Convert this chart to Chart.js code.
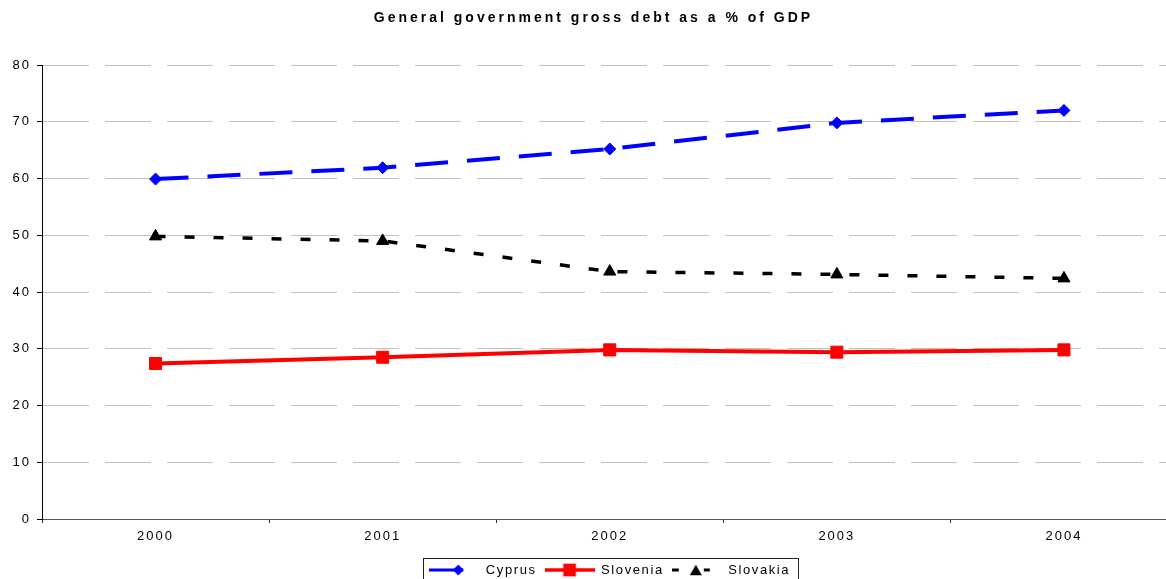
<!DOCTYPE html>
<html>
<head>
<meta charset="utf-8">
<script src="https://cdn.jsdelivr.net/npm/chart.js@4.4.1/dist/chart.umd.min.js"></script>
<style>
html,body{margin:0;padding:0;background:#fff;overflow:hidden}
#wrap{position:relative;width:1187px;height:579px}
canvas{display:block}
</style>
</head>
<body>
<div id="wrap"><canvas id="c"></canvas></div>
<script>
const titleText = 'General government gross debt as a % of GDP';
const years = ['2000', '2001', '2002', '2003', '2004'];
const cyprus = [59.9, 61.9, 65.2, 69.8, 72.0];
const slovenia = [27.4, 28.5, 29.8, 29.4, 29.8];
const slovakia = [49.8, 49.0, 43.6, 43.1, 42.4];
const seriesNames = ['Cyprus', 'Slovenia', 'Slovakia'];
const yMin = 0, yMax = 80, yStep = 10;

const FAMILY = '"Liberation Sans", Arial, Helvetica, sans-serif';

function markerPath(g, style, x, y, r) {
  g.beginPath();
  if (style === 'rectRot') {
    g.moveTo(x - r, y); g.lineTo(x, y - r); g.lineTo(x + r, y); g.lineTo(x, y + r);
  } else if (style === 'rect') {
    const s = r * Math.SQRT1_2;
    g.rect(x - s, y - s, 2 * s, 2 * s);
  } else if (style === 'triangle') {
    const w = r * Math.sqrt(3) / 2;
    g.moveTo(x, y - r * 0.75); g.lineTo(x + w, y + r * 0.75); g.lineTo(x - w, y + r * 0.75);
  }
  g.closePath();
  g.fill();
}

function makeSwatch(color, lw, segs, style, mx, r) {
  const c = document.createElement('canvas');
  c.width = 50; c.height = 18;
  const g = c.getContext('2d');
  g.strokeStyle = color; g.fillStyle = color; g.lineWidth = lw;
  segs.forEach(s => { g.beginPath(); g.moveTo(s[0], 9); g.lineTo(s[1], 9); g.stroke(); });
  markerPath(g, style, mx, 9, r);
  return c;
}

const swatches = [
  makeSwatch('#0000ff', 3, [[0, 34]], 'rectRot', 29, 5.5),
  makeSwatch('#ff0000', 3.5, [[0, 50]], 'rect', 25, 9),
  makeSwatch('#000000', 3, [[0, 7], [32, 38]], 'triangle', 24, 7)
];

function wrapSpacing(obj, method, sp) {
  const key = '_ws_' + method;
  if (!obj || obj[key]) return;
  const orig = obj[method];
  obj[method] = function (...a) {
    const c = this.ctx;
    const prev = c.letterSpacing;
    c.letterSpacing = sp;
    try { return orig.apply(this, a); } finally { c.letterSpacing = prev; }
  };
  obj[key] = true;
}

const stylePlugin = {
  id: 'stylePlugin',
  beforeUpdate(chart) {
    chart.ctx.letterSpacing = '2px';
    wrapSpacing(chart.titleBlock, 'draw', '3px');
    wrapSpacing(chart.legend, 'fit', '1.6px');
    wrapSpacing(chart.legend, 'draw', '1.6px');
  },
  beforeLayout(chart) { chart.ctx.letterSpacing = '2px'; },
  afterLayout(chart) {
    const lg = chart.legend, ca = chart.chartArea;
    const dx = (ca.left + ca.right) / 2 - (lg.left + lg.right) / 2;
    lg.left += dx; lg.right += dx;
    lg.top += 7.5; lg.bottom += 7.5;
  },
  beforeDraw(chart) { chart.ctx.letterSpacing = '2px'; },
  afterDraw(chart) {
    const hb = chart.legend.legendHitBoxes;
    if (!hb || !hb.length) return;
    let l = Infinity, r = -Infinity;
    hb.forEach(h => { l = Math.min(l, h.left); r = Math.max(r, h.left + h.width); });
    const t = hb[0].top - 5.5;
    const ctx = chart.ctx;
    ctx.save();
    ctx.strokeStyle = '#222';
    ctx.lineWidth = 1;
    ctx.setLineDash([]);
    ctx.strokeRect(Math.round(l - 6) + 0.5, Math.round(t) + 0.5, Math.round(r - l + 14), 40);
    ctx.restore();
  }
};

const tickFont = { family: FAMILY, size: 13 };

new Chart(document.getElementById('c'), {
  type: 'line',
  data: {
    labels: years,
    datasets: [
      { label: seriesNames[0], data: cyprus, borderColor: '#0000ff', backgroundColor: '#0000ff',
        borderWidth: 4, borderDash: [33, 19], pointStyle: 'rectRot', pointRadius: 6,
        pointHoverRadius: 6, pointBorderWidth: 1, tension: 0, fill: false },
      { label: seriesNames[1], data: slovenia, borderColor: '#ff0000', backgroundColor: '#ff0000',
        borderWidth: 4, pointStyle: 'rect', pointRadius: 8.5,
        pointHoverRadius: 8.5, pointBorderWidth: 1, tension: 0, fill: false },
      { label: seriesNames[2], data: slovakia, borderColor: '#000000', backgroundColor: '#000000',
        borderWidth: 3.5, borderDash: [10, 19], pointStyle: 'triangle', pointRadius: 7,
        pointHoverRadius: 7, pointBorderWidth: 1, tension: 0, fill: false }
    ]
  },
  options: {
    responsive: true,
    maintainAspectRatio: false,
    animation: false,
    devicePixelRatio: 1,
    layout: { padding: 0 },
    events: [],
    plugins: {
      title: {
        display: true, text: titleText, color: '#000',
        font: { family: FAMILY, size: 14, weight: 'bold' },
        padding: { top: 10, bottom: 38.2 }
      },
      legend: {
        position: 'bottom',
        labels: {
          usePointStyle: true, pointStyleWidth: 50, padding: 8, color: '#000',
          font: { family: FAMILY, size: 13 },
          generateLabels(chart) {
            const items = Chart.defaults.plugins.legend.labels.generateLabels(chart);
            items.forEach(it => { it.pointStyle = swatches[it.datasetIndex]; });
            return items;
          }
        }
      },
      tooltip: { enabled: false }
    },
    scales: {
      x: {
        offset: true,
        grid: { display: true, offset: true, drawOnChartArea: false, drawTicks: true,
                tickLength: 4, tickColor: '#333', tickWidth: 1 },
        border: { display: true, color: '#555', width: 1 },
        ticks: { color: '#000', font: tickFont, padding: 6, maxRotation: 0, autoSkip: false },
        afterFit(s) { s.height = 29; }
      },
      y: {
        min: yMin, max: yMax,
        ticks: { stepSize: yStep, color: '#000', font: tickFont, padding: 6 },
        grid: {
          color: c => (c.tick && c.tick.value === 0) ? 'rgba(0,0,0,0)' : '#c0c0c0',
          lineWidth: 1, tickLength: 5, tickColor: '#000', tickWidth: 1, tickBorderDash: []
        },
        border: { display: true, color: '#000', width: 1, dash: [46, 16] },
        afterFit(s) { s.width = 42; }
      }
    }
  },
  plugins: [stylePlugin]
});
</script>
</body>
</html>
